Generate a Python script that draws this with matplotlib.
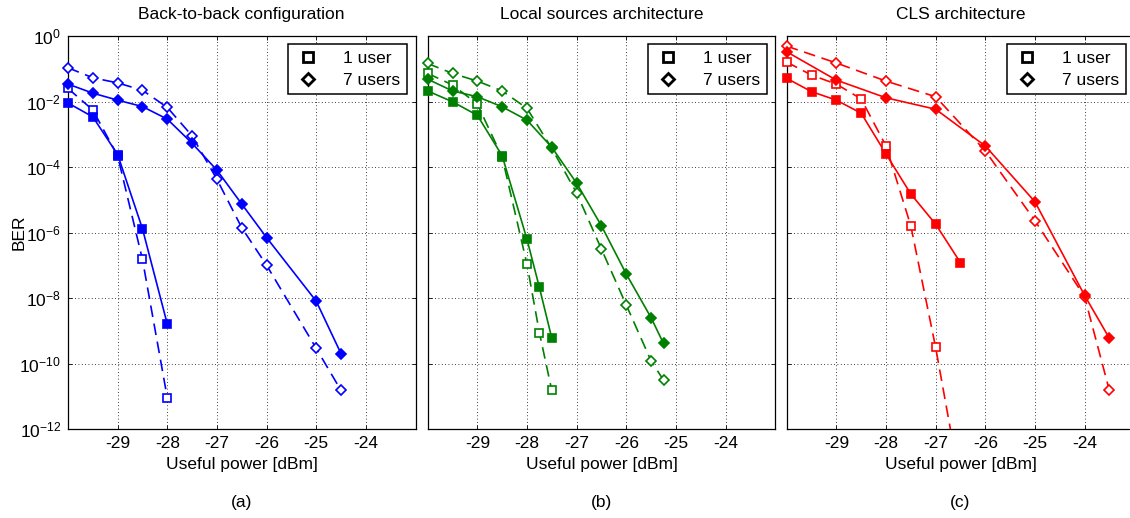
import numpy as np
import matplotlib
matplotlib.use("Agg")
import matplotlib.pyplot as plt
from matplotlib.lines import Line2D

plt.rcParams["font.family"] = ["Liberation Sans", "DejaVu Sans"]
plt.rcParams["mathtext.fontset"] = "custom"
plt.rcParams["mathtext.rm"] = "Liberation Sans"
plt.rcParams["mathtext.it"] = "Liberation Sans"
plt.rcParams["axes.unicode_minus"] = False

# ---- data ----
titles = ["Back-to-back configuration", "Local sources architecture", "CLS architecture"]
panel_tags = ["(a)", "(b)", "(c)"]
colors = ["#0000ff", "#008000", "#ff0000"]

# (a) back-to-back
a_p1 = [-30, -29.5, -29, -28.5, -28]
a_1user = [9e-3, 3.4e-3, 2.4e-4, 1.3e-6, 1.6e-9]
a_1user_d = [2.5e-2, 5.5e-3, 2.2e-4, 1.5e-7, 9e-12]
a_p7 = [-30, -29.5, -29, -28.5, -28, -27.5, -27, -26.5, -26, -25, -24.5]
a_7users = [3.4e-2, 1.8e-2, 1.1e-2, 7e-3, 2.9e-3, 5.3e-4, 8e-5, 7.4e-6, 7e-7, 8e-9, 2e-10]
a_7users_d = [1.07e-1, 5.3e-2, 3.7e-2, 2.2e-2, 6.6e-3, 8.9e-4, 4.2e-5, 1.4e-6, 1e-7, 2.9e-10, 1.5e-11]

# (b) local sources
b_p1 = [-30, -29.5, -29, -28.5, -28, -27.75, -27.5]
b_1user = [2.1e-2, 9.8e-3, 3.8e-3, 2.2e-4, 6.2e-7, 2.1e-8, 5.9e-10]
b_1user_d = [7.2e-2, 3.2e-2, 8.4e-3, 2.0e-4, 1.07e-7, 8.7e-10, 1.5e-11]
b_p7 = [-30, -29.5, -29, -28.5, -28, -27.5, -27, -26.5, -26, -25.5, -25.25]
b_7users = [4.8e-2, 2.1e-2, 1.4e-2, 6.9e-3, 2.7e-3, 4e-4, 3.2e-5, 1.6e-6, 5.4e-8, 2.5e-9, 4.1e-10]
b_7users_d = [1.45e-1, 7.2e-2, 4.2e-2, 2.1e-2, 6.2e-3, 3.7e-4, 1.6e-5, 3.1e-7, 6.1e-9, 1.2e-10, 3.1e-11]

# (c) CLS
c_p1 = [-30, -29.5, -29, -28.5, -28, -27.5, -27, -26.5]
c_1user = [5.1e-2, 2e-2, 1.1e-2, 4.4e-3, 2.5e-4, 1.5e-5, 1.8e-6, 1.2e-7]
c_1user_d = [1.6e-1, 6.4e-2, 3.4e-2, 1.2e-2, 4.4e-4, 1.6e-6, 3.1e-10, 2e-14]
c_p7 = [-30, -29, -28, -27, -26, -25, -24, -23.5]
c_7users = [3.3e-1, 4.5e-2, 1.3e-2, 5.8e-3, 4.4e-4, 8.7e-6, 1.2e-8, 5.9e-10]
c_7users_d = [4.9e-1, 1.5e-1, 4.2e-2, 1.4e-2, 3.1e-4, 2.3e-6, 1.1e-8, 1.5e-11]

panels = [
    (a_p1, a_1user, a_1user_d, a_p7, a_7users, a_7users_d),
    (b_p1, b_1user, b_1user_d, b_p7, b_7users, b_7users_d),
    (c_p1, c_1user, c_1user_d, c_p7, c_7users, c_7users_d),
]

xticks = [-29, -28, -27, -26, -25, -24]
yticks = [1e0, 1e-2, 1e-4, 1e-6, 1e-8, 1e-10, 1e-12]
ytick_labels = ["$10^{0}$", "$10^{-2}$", "$10^{-4}$", "$10^{-6}$", "$10^{-8}$", "$10^{-10}$", "$10^{-12}$"]

W, H = 1130, 518
fig = plt.figure(figsize=(W / 100, H / 100), dpi=100)

lefts = [68, 427.7, 786.7]
ax_w, ax_top, ax_bot = 347.5, 36, 429
YMIN, YMAX = 1e-12, 1e0
FS = 12.5


def draw(ax, x, y, color, marker, filled, dashed, ms):
    x = np.asarray(x)
    y = np.asarray(y)
    ls = (0, (7, 4)) if dashed else "-"
    ax.plot(x, y, color=color, lw=1.2, linestyle=ls, zorder=3)
    # markers are not clipped at the frame (as in the original), but points
    # below the y range are left out
    vis = y >= YMIN
    ax.plot(x[vis], y[vis], linestyle="none", marker=marker, ms=ms,
            mfc=color if filled else "white", mec=color, mew=1.2,
            clip_on=False, zorder=4)


for i, ax_left in enumerate(lefts):
    ax = fig.add_axes([ax_left / W, 1 - ax_bot / H, ax_w / W, (ax_bot - ax_top) / H])
    p1, u1, u1d, p7, u7, u7d = panels[i]
    c = colors[i]
    draw(ax, p1, u1d, c, "s", False, True, 5.5)
    draw(ax, p7, u7d, c, "D", False, True, 5.0)
    draw(ax, p1, u1, c, "s", True, False, 5.8)
    draw(ax, p7, u7, c, "D", True, False, 5.2)

    ax.set_yscale("log")
    ax.set_xlim(-30, -23)
    ax.set_ylim(YMIN, YMAX)
    ax.set_xticks(xticks)
    ax.set_xticklabels([str(t) for t in xticks])
    ax.set_yticks(yticks)
    ax.minorticks_off()
    if i == 0:
        ax.set_yticklabels(ytick_labels)
        ax.set_ylabel("BER", fontsize=FS, labelpad=-5)
    else:
        ax.set_yticklabels([])
    ax.tick_params(direction="in", top=True, right=True, length=3, width=0.6,
                   labelsize=FS, pad=5, colors="black")
    ax.grid(True, color="black", linestyle=(0, (1, 3)), lw=0.6)
    for s in ax.spines.values():
        s.set_linewidth(0.9)
    ax.set_title(titles[i], fontsize=FS, pad=12)
    ax.set_xlabel("Useful power [dBm]", fontsize=FS, labelpad=4)
    ax.text(0.5, -0.187, panel_tags[i], transform=ax.transAxes, ha="center",
            va="center", fontsize=FS)

    handles = [
        Line2D([], [], linestyle="none", marker="s", ms=6.5, mfc="white", mec="black", mew=2),
        Line2D([], [], linestyle="none", marker="D", ms=6, mfc="white", mec="black", mew=2),
    ]
    leg = ax.legend(handles, ["1 user", "7 users"], loc="upper right",
                    bbox_to_anchor=(1 - 8.7 / ax_w, 1 - 8 / (ax_bot - ax_top)),
                    borderaxespad=0, fancybox=False, framealpha=1,
                    edgecolor="black", fontsize=FS, handletextpad=1.2,
                    labelspacing=0.4, borderpad=0.38, handlelength=1.6)
    leg.get_frame().set_linewidth(1.1)

fig.savefig("out.png", dpi=100)
